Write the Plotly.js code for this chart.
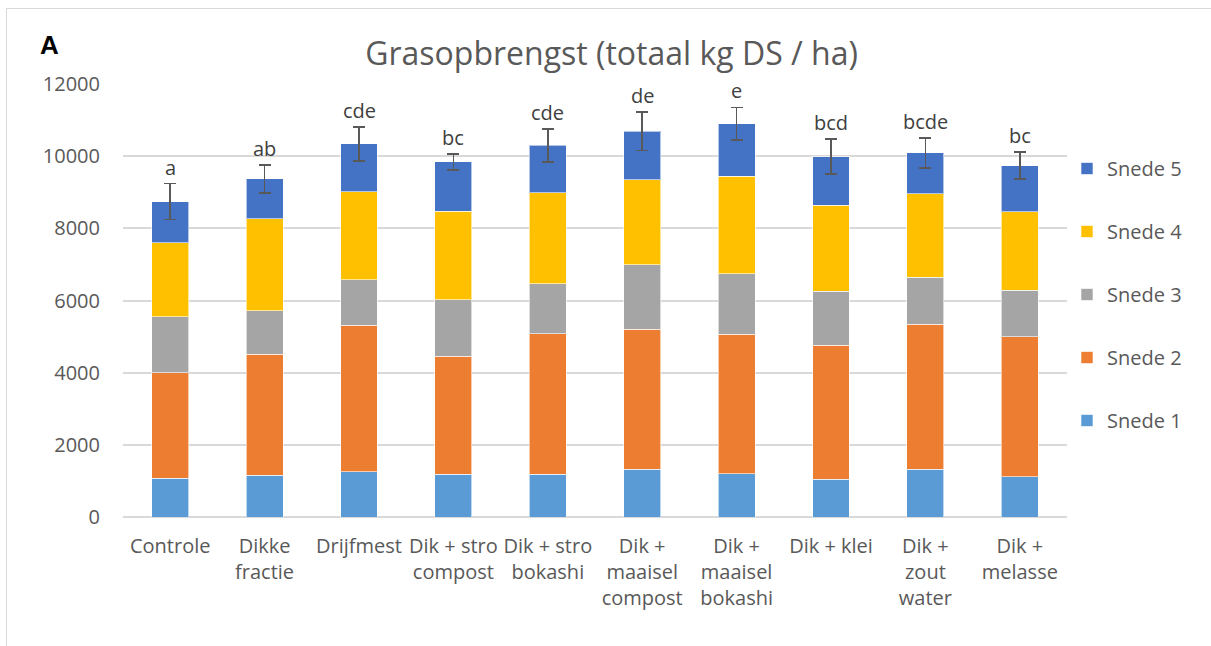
<!DOCTYPE html>
<html>
<head>
<meta charset="utf-8">
<script src="https://cdn.plot.ly/plotly-3.0.1.min.js"></script>
<style>
    body { margin: 0; background: #ffffff; }
    #chart { width: 1211px; height: 646px; }
    #frame {
        position: absolute; left: 6px; top: 8px;
        width: 1230px; height: 660px;
        border: 1px solid #d9d9d9; pointer-events: none;
    }
</style>
</head>
<body>
<div id="chart"></div>
<div id="frame"></div>
<script>
// Behandelingen (x-as)
const categories = [
    'Controle', 'Dikke<br>fractie', 'Drijfmest', 'Dik + stro<br>compost', 'Dik + stro<br>bokashi',
    'Dik +<br>maaisel<br>compost', 'Dik +<br>maaisel<br>bokashi', 'Dik + klei', 'Dik +<br>zout<br>water', 'Dik +<br>melasse'
];

// Opbrengst per snede (kg DS / ha)
const snede1 = [1070, 1160, 1250, 1180, 1180, 1320, 1200, 1050, 1320, 1110];
const snede2 = [2930, 3350, 4060, 3270, 3900, 3880, 3870, 3710, 4020, 3890];
const snede3 = [1550, 1210, 1270, 1570, 1390, 1790, 1670, 1490, 1310, 1290];
const snede4 = [2050, 2540, 2430, 2450, 2510, 2350, 2700, 2390, 2310, 2170];
const snede5 = [1140, 1110, 1330, 1370, 1320, 1350, 1460, 1350, 1130, 1280];

// Foutbalken op het totaal en significantieletters
const errors = [500, 385, 470, 225, 460, 530, 450, 485, 410, 380];
const letters = ['a', 'ab', 'cde', 'bc', 'cde', 'de', 'e', 'bcd', 'bcde', 'bc'];

const series = [
    { name: 'Snede 1', y: snede1, color: '#5B9BD5' },
    { name: 'Snede 2', y: snede2, color: '#ED7D31' },
    { name: 'Snede 3', y: snede3, color: '#A5A5A5' },
    { name: 'Snede 4', y: snede4, color: '#FFC000' },
    { name: 'Snede 5', y: snede5, color: '#4472C4' }
];

const textColor = '#595959';
const fontFamily = '"Open Sans", Lato, sans-serif';

const traces = series.map((s, i) => {
    const trace = {
        type: 'bar',
        name: s.name,
        x: categories,
        y: s.y,
        legendgroup: 'g' + i,
        legendrank: series.length - i, // Snede 5 on top of the legend
        marker: { color: s.color, line: { color: 'rgba(255,255,255,0.6)', width: 1 } },
        hoverinfo: 'x+y+name'
    };
    if (i === series.length - 1) {
        trace.error_y = {
            type: 'data', array: errors, visible: true,
            color: '#595959', thickness: 1.6, width: 6
        };
    }
    return trace;
});

// totals for placing the letters
const totals = categories.map((c, i) => series.reduce((sum, s) => sum + s.y[i], 0));

const annotations = letters.map((l, i) => ({
    x: categories[i], y: totals[i] + errors[i],
    xref: 'x', yref: 'y',
    text: l, showarrow: false,
    yanchor: 'bottom', yshift: 1,
    font: { family: fontFamily, size: 20, color: '#404040' }
}));

// panel letter, top left of the chart
annotations.push({
    xref: 'paper', yref: 'paper',
    x: -0.09, y: 1.09,
    xanchor: 'left', yanchor: 'middle',
    text: '<b>A</b>', showarrow: false,
    font: { family: 'Liberation Sans, Arial, sans-serif', size: 26, color: '#000000' }
});

const layout = {
    width: 1211, height: 646,
    paper_bgcolor: '#ffffff',
    plot_bgcolor: '#ffffff',
    margin: { t: 84, r: 141, b: 129, l: 123 },
    barmode: 'stack',
    bargap: 0.61,
    font: { family: fontFamily, color: textColor },
    title: {
        text: 'Grasopbrengst (totaal kg DS / ha)',
        xref: 'container', yref: 'container',
        x: 0.505, y: 1 - 54 / 646,
        xanchor: 'center', yanchor: 'middle',
        font: { family: fontFamily, size: 32, color: textColor }
    },
    xaxis: {
        type: 'category',
        tickangle: 0,
        showgrid: false,
        showline: false,
        ticks: '',
        ticklabelstandoff: 15,
        tickfont: { family: fontFamily, size: 20, color: textColor }
    },
    yaxis: {
        range: [0, 12000],
        tick0: 0, dtick: 2000,
        tickformat: 'd',
        showgrid: true,
        gridcolor: '#d9d9d9',
        gridwidth: 1.5,
        zeroline: true,
        zerolinecolor: '#d9d9d9',
        zerolinewidth: 1.5,
        showline: false,
        ticks: '',
        ticklabelstandoff: 22,
        tickfont: { family: fontFamily, size: 20, color: textColor }
    },
    legend: {
        traceorder: 'grouped',
        tracegroupgap: 34,
        bgcolor: 'rgba(0,0,0,0)',
        x: 1067 / 1211, xref: 'container',
        y: 1 - 149 / 646, yref: 'container',
        xanchor: 'left', yanchor: 'top',
        font: { family: fontFamily, size: 20, color: textColor },
        itemwidth: 30
    },
    annotations: annotations,
    hovermode: 'closest'
};

Plotly.newPlot('chart', traces, layout, { displayModeBar: false, responsive: false });
</script>
</body>
</html>
